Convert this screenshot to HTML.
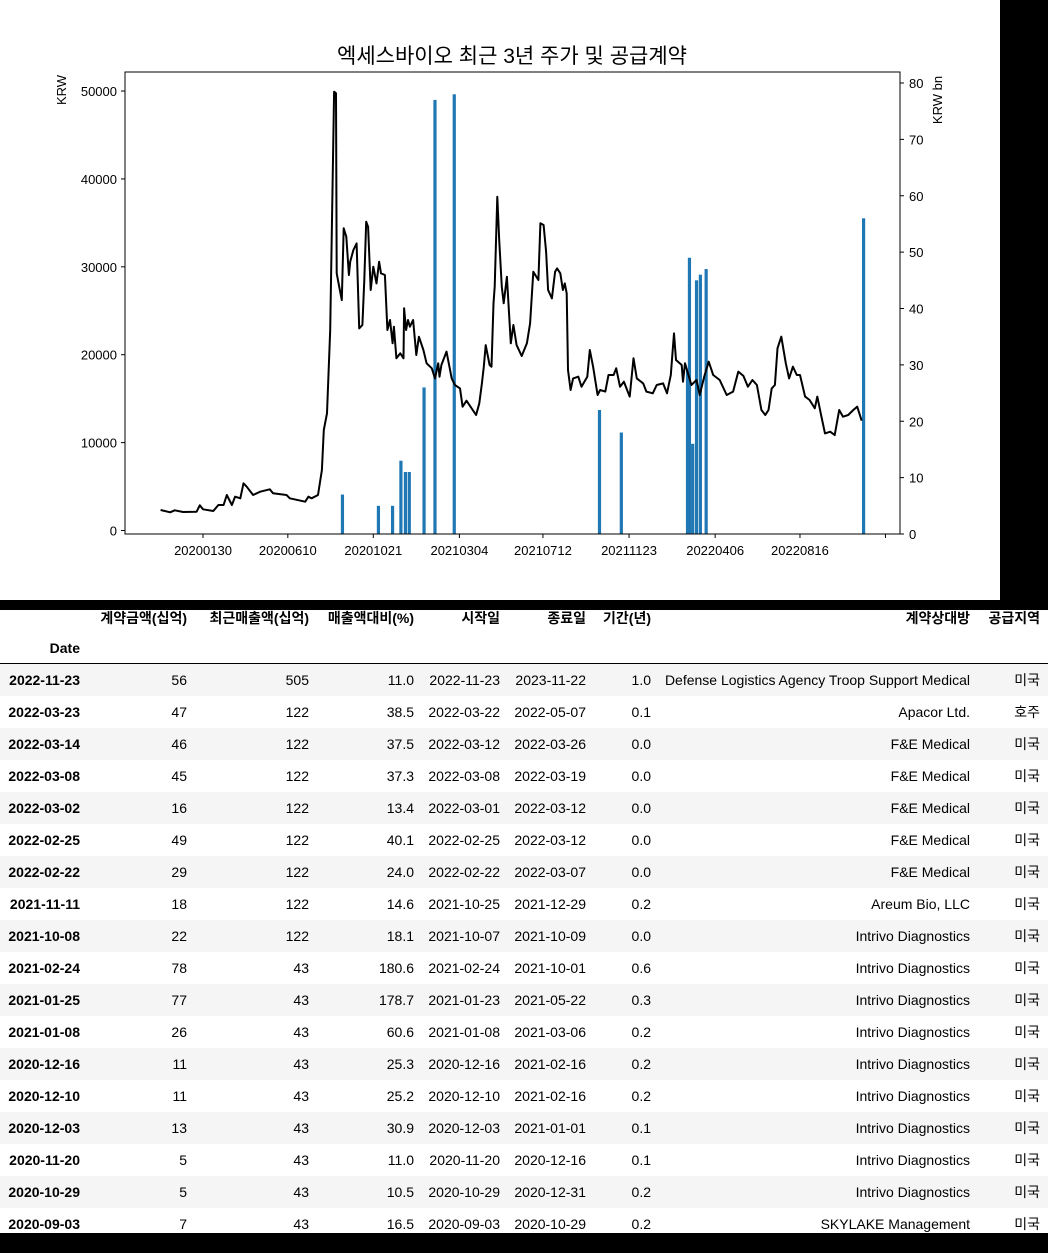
<!DOCTYPE html>
<html><head><meta charset="utf-8">
<style>
body{margin:0;width:1048px;height:1253px;background:#000;position:relative;overflow:hidden;font-family:"Liberation Sans","Noto Sans CJK KR",sans-serif;}
#chartwrap{position:absolute;left:0;top:0;width:1000px;height:600px;background:#fff;}
#tbl{position:absolute;left:0;top:610px;width:1048px;height:623px;background:#fff;font-size:14px;color:#000;overflow:hidden;}
.c{position:absolute;white-space:nowrap;text-align:right;line-height:32px;}
.h{font-weight:bold;}
.row{position:absolute;left:0;width:1048px;height:32px;}
</style></head><body>
<div id="chartwrap">
<svg id="chart" width="1000" height="600"></svg>
</div>
<div id="tbl"></div>
<script>
const priceDays=[-66,-51,-44,-31,-10,-5,0,16,24,32,37,45,50,58,63,68,78,89,104,109,130,135,159,164,169,179,185,188,193,198,204,207,208,212,216,219,223,227,229,234,239,243,248,251,254,257,261,265,270,274,277,283,287,291,295,297,301,307,312,313,316,319,322,327,332,336,343,348,356,361,366,368,371,379,387,392,400,404,410,418,425,430,434,437,440,446,449,452,454,458,461,465,468,473,479,483,488,496,504,509,514,522,525,530,534,537,543,548,551,556,560,563,566,568,572,576,584,589,598,602,607,614,618,626,631,639,643,649,655,664,670,675,685,690,700,706,716,722,728,733,736,745,747,750,760,768,773,780,787,794,804,815,825,833,841,848,855,862,869,875,880,885,890,894,900,907,912,918,924,929,937,944,952,956,963,968,976,983,990,996,1004,1012,1018,1025];
const priceVals=[2330,2070,2300,2100,2140,2870,2410,2220,2900,2900,4040,2900,3850,3660,5370,4980,4040,4420,4690,4230,4040,3660,3280,3850,3660,4040,6880,11430,13330,22800,49930,49740,29260,27740,26220,34380,33430,29070,30580,31910,32670,23000,23380,28500,35130,34560,27360,30010,28120,30580,29260,29070,22810,23950,21300,23190,19590,20160,19590,25280,22810,23950,23190,23950,19970,22050,20540,19020,18450,17310,19020,17500,18830,20350,17310,16550,16170,14090,14770,13900,13140,14470,16740,18640,21100,18830,18640,25850,27740,37980,33050,27740,25850,28880,21300,23380,21100,19850,21300,23570,29440,28500,34950,34760,31720,27360,26410,29440,29820,29260,27360,28120,26980,18260,15990,17310,17500,16360,17500,20540,18640,15420,15990,15800,17690,17690,18450,16360,16930,15230,19590,17310,16740,15800,15610,16550,16740,15610,17690,22430,19400,18830,16930,19020,16550,17120,15420,17500,19210,17690,17120,15420,15800,18080,17590,16360,17120,16550,13710,13140,13710,16170,16550,20730,22050,19020,17310,18640,17690,17690,15230,14850,13900,15230,12760,11050,11240,10860,13710,12950,13140,13710,14090,12490];
const barDates=["2022-11-23","2022-03-23","2022-03-14","2022-03-08","2022-03-02","2022-02-25","2022-02-22","2021-11-11","2021-10-08","2021-02-24","2021-01-25","2021-01-08","2020-12-16","2020-12-10","2020-12-03","2020-11-20","2020-10-29","2020-09-03"];
const barVals=[56,47,46,45,16,49,29,18,22,78,77,26,11,11,13,5,5,7];
const xTickLabels=["20200130","20200610","20201021","20210304","20210712","20211123","20220406","20220816"];
const yLeftTicks=[0,10000,20000,30000,40000,50000];
const yRightTicks=[0,10,20,30,40,50,60,70,80];

const NS="http://www.w3.org/2000/svg";
const svg=document.getElementById('chart');
const base=Date.UTC(2020,0,30);
function dayOf(s){const p=s.split('-');return (Date.UTC(+p[0],+p[1]-1,+p[2])-base)/86400000;}
function lab(s){return s.slice(0,4)+'-'+s.slice(4,6)+'-'+s.slice(6);}
const X=d=>203+d*0.6426;
const YL=v=>530.5-v*0.008789;
const YR=v=>534-v*5.6375;
function mk(t,a,parent){const e=document.createElementNS(NS,t);for(const k in a)e.setAttribute(k,a[k]);(parent||svg).appendChild(e);return e;}

barDates.forEach((d,i)=>{
  const x=X(dayOf(d));
  const r=mk('rect',{x:x-1.6,y:YR(barVals[i]),width:3.2,height:534-YR(barVals[i]),fill:'#1f77b4'});
  
  
});
let dstr='';
priceDays.forEach((d,i)=>{dstr+=(i?'L':'M')+X(d).toFixed(1)+' '+YL(priceVals[i]).toFixed(1);});
const pl=mk('path',{d:dstr,fill:'none',stroke:'#000','stroke-width':2,'stroke-linejoin':'round'});


const fr=mk('rect',{x:125,y:72,width:775,height:462,fill:'none',stroke:'#000','stroke-width':1});


xTickLabels.forEach(s=>{
  const x=X(dayOf(lab(s)));
  mk('line',{x1:x,x2:x,y1:534,y2:538,stroke:'#000'});
  const t=mk('text',{x:x,y:555,'text-anchor':'middle','font-size':13});
  t.textContent=s;
  
  
});
{const x=X(dayOf("2022-12-27"));mk('line',{x1:x,x2:x,y1:534,y2:538,stroke:'#000'});}
yLeftTicks.forEach(v=>{
  const y=YL(v);
  mk('line',{x1:121,x2:125,y1:y,y2:y,stroke:'#000'});
  const t=mk('text',{x:117,y:y+5,'text-anchor':'end','font-size':13});
  t.textContent=v;
  
  
});
yRightTicks.forEach(v=>{
  const y=YR(v);
  mk('line',{x1:900,x2:904,y1:y,y2:y,stroke:'#000'});
  const t=mk('text',{x:909,y:y+5,'text-anchor':'start','font-size':13});
  t.textContent=v;
  
  
});
const yl=mk('text',{x:0,y:0,transform:'translate(66,90) rotate(-90)','text-anchor':'middle','font-size':13});
yl.textContent='KRW';


const yr=mk('text',{x:0,y:0,transform:'translate(942,100) rotate(-90)','text-anchor':'middle','font-size':13});
yr.textContent='KRW bn';


const ti=mk('text',{x:512,y:63,'text-anchor':'middle','font-size':21});
ti.textContent='엑세스바이오 최근 3년 주가 및 공급계약';



const tbl=document.getElementById('tbl');
const cols=[80,187,309,414,500,586,651,970,1040];
const headers=["","계약금액(십억)","최근매출액(십억)","매출액대비(%)","시작일","종료일","기간(년)","계약상대방","공급지역"];
const rows=[
["2022-11-23","56","505","11.0","2022-11-23","2023-11-22","1.0","Defense Logistics Agency Troop Support Medical","미국"],
["2022-03-23","47","122","38.5","2022-03-22","2022-05-07","0.1","Apacor Ltd.","호주"],
["2022-03-14","46","122","37.5","2022-03-12","2022-03-26","0.0","F&E Medical","미국"],
["2022-03-08","45","122","37.3","2022-03-08","2022-03-19","0.0","F&E Medical","미국"],
["2022-03-02","16","122","13.4","2022-03-01","2022-03-12","0.0","F&E Medical","미국"],
["2022-02-25","49","122","40.1","2022-02-25","2022-03-12","0.0","F&E Medical","미국"],
["2022-02-22","29","122","24.0","2022-02-22","2022-03-07","0.0","F&E Medical","미국"],
["2021-11-11","18","122","14.6","2021-10-25","2021-12-29","0.2","Areum Bio, LLC","미국"],
["2021-10-08","22","122","18.1","2021-10-07","2021-10-09","0.0","Intrivo Diagnostics","미국"],
["2021-02-24","78","43","180.6","2021-02-24","2021-10-01","0.6","Intrivo Diagnostics","미국"],
["2021-01-25","77","43","178.7","2021-01-23","2021-05-22","0.3","Intrivo Diagnostics","미국"],
["2021-01-08","26","43","60.6","2021-01-08","2021-03-06","0.2","Intrivo Diagnostics","미국"],
["2020-12-16","11","43","25.3","2020-12-16","2021-02-16","0.2","Intrivo Diagnostics","미국"],
["2020-12-10","11","43","25.2","2020-12-10","2021-02-16","0.2","Intrivo Diagnostics","미국"],
["2020-12-03","13","43","30.9","2020-12-03","2021-01-01","0.1","Intrivo Diagnostics","미국"],
["2020-11-20","5","43","11.0","2020-11-20","2020-12-16","0.1","Intrivo Diagnostics","미국"],
["2020-10-29","5","43","10.5","2020-10-29","2020-12-31","0.2","Intrivo Diagnostics","미국"],
["2020-09-03","7","43","16.5","2020-09-03","2020-10-29","0.2","SKYLAKE Management","미국"]];
function cell(parent,txt,right,top,bold,name){
  const d=document.createElement('div');
  d.className='c'+(bold?' h':'');
  d.style.right=(1048-right)+'px';d.style.top=top+'px';
  d.textContent=txt;
  
  
  parent.appendChild(d);
}
headers.forEach((h,i)=>{if(h)cell(tbl,h,cols[i],-8,true,'column-header');});
cell(tbl,'Date',cols[0],22,true,'index-header');
const line=document.createElement('div');
line.style.cssText='position:absolute;left:0;top:53px;width:1048px;height:1px;background:#000;';


tbl.appendChild(line);
rows.forEach((r,ri)=>{
  const rw=document.createElement('div');
  rw.className='row';
  rw.style.top=(54+ri*32)+'px';
  rw.style.background=ri%2===0?'#f5f5f5':'#fff';
  
  
  tbl.appendChild(rw);
  r.forEach((v,ci)=>cell(rw,v,cols[ci],0,ci===0,ci===0?'row-date':'table-cell'));
});
</script>
</body></html>
